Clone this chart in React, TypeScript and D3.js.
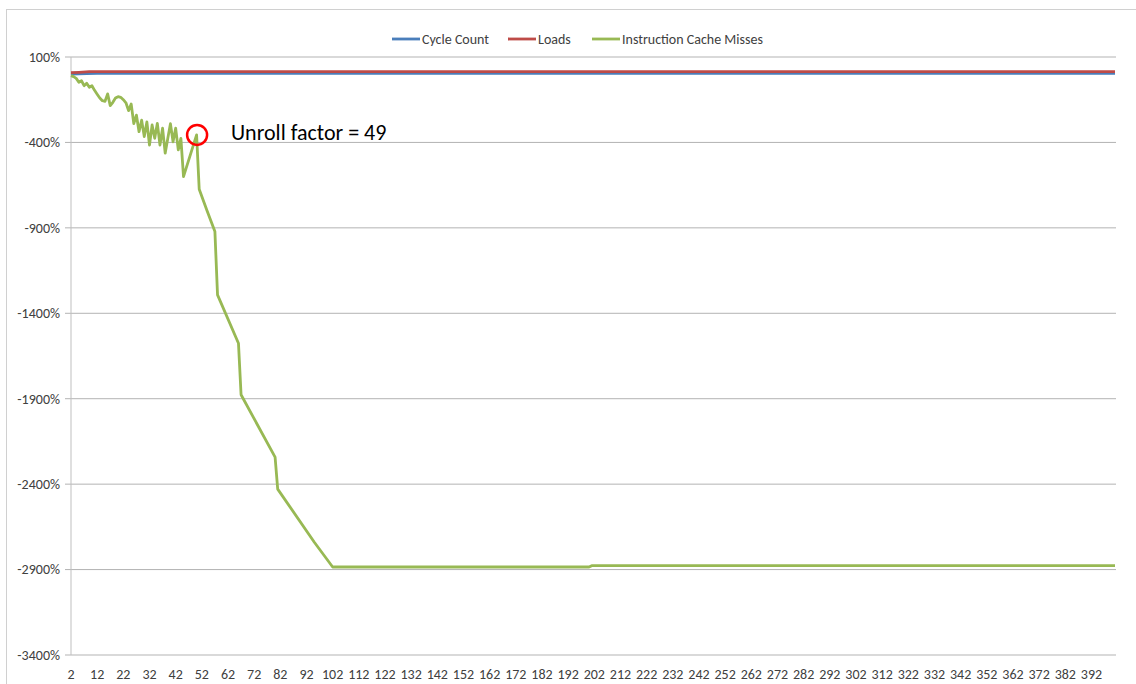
import * as d3 from 'd3'

// x categories run from 2 to 401, one point per unroll factor
const firstCat = 2
const lastCat = 401
const xTickLabels = d3.range(2, 393, 10)
const yTicks = [100, -400, -900, -1400, -1900, -2400, -2900, -3400]

// [unroll factor, % change]
const cycleCount: [number, number][] = [
  [2, 0], [5, 1], [8, 3], [12, 4], [401, 4],
]
const loads: [number, number][] = [
  [2, 8], [5, 10], [9, 14], [401, 14],
]
const cacheMisses: [number, number][] = [
  [2, -9], [3, -15], [4, -25], [5, -48], [6, -39], [7, -68], [8, -54], [9, -77],
  [10, -68], [11, -95], [12, -118], [13, -140], [14, -156], [15, -159], [16, -116],
  [17, -185], [18, -165], [19, -140], [20, -132], [21, -136], [22, -150], [23, -168],
  [24, -214], [25, -175], [26, -290], [27, -240], [28, -337], [29, -270], [30, -366],
  [31, -280], [32, -415], [33, -298], [34, -376], [35, -288], [36, -415], [37, -317],
  [38, -463], [39, -375], [40, -290], [41, -396], [42, -317], [43, -444], [44, -376],
  [45, -600], [50, -356], [51, -674], [54, -800], [57, -922], [58, -1292], [66, -1575],
  [67, -1877], [80, -2242], [81, -2429], [95, -2740], [102, -2885], [200, -2885],
  [201, -2877], [401, -2877],
]

const series = [
  { name: 'Cycle Count', color: '#4a7ebb', data: cycleCount },
  { name: 'Loads', color: '#be4b48', data: loads },
  { name: 'Instruction Cache Misses', color: '#98b954', data: cacheMisses },
]

const peakCat = 50
const peakLabel = 'Unroll factor = 49'

const font = 'Carlito, Calibri, Lato, sans-serif'

export default function App() {
  const width = 1136
  const height = 684
  const left = 71
  const right = 1115
  const top = 57
  const bottom = 655

  const x = d3.scaleLinear().domain([firstCat, lastCat]).range([left, right])
  const y = d3.scaleLinear().domain([-3400, 100]).range([bottom, top])

  const line = d3
    .line<[number, number]>()
    .x((d) => x(d[0]))
    .y((d) => y(d[1]))

  const peak = cacheMisses.find((d) => d[0] === peakCat)!

  const legendX = [392, 508, 592]

  return (
    <svg
      width={width}
      height={height}
      style={{ position: 'absolute', left: 0, top: 0, background: '#fff' }}
      fontFamily={font}
    >
      <rect x={6.5} y={9.5} width={width} height={height} fill="none" stroke="#d0d0d0" />

      {/* gridlines + y labels */}
      {yTicks.map((t) => (
        <g key={t}>
          <line x1={left - 6} x2={right + 1} y1={y(t)} y2={y(t)} stroke="#b3b3b3" strokeWidth={1} />
          <text x={60} y={y(t)} dy="0.35em" textAnchor="end" fontSize={14} fill="#404040">
            {t}%
          </text>
        </g>
      ))}
      <line x1={left} x2={left} y1={top} y2={bottom} stroke="#bfbfbf" />

      {/* x labels */}
      {xTickLabels.map((t) => (
        <text key={t} x={x(t)} y={679} textAnchor="middle" fontSize={14} fill="#404040">
          {t}
        </text>
      ))}

      {series.map((s) => (
        <path
          key={s.name}
          d={line(s.data) || undefined}
          fill="none"
          stroke={s.color}
          strokeWidth={2.8}
          strokeLinejoin="round"
        />
      ))}

      {/* annotation */}
      <circle cx={x(peak[0]) + 0.5} cy={y(peak[1])} r={10} fill="none" stroke="#ff0000" strokeWidth={2.5} />
      <text x={231} y={y(peak[1]) + 5} fontSize={22} fill="#000">
        {peakLabel}
      </text>

      {/* legend */}
      {series.map((s, i) => (
        <g key={s.name} transform={`translate(${legendX[i]},39)`}>
          <line x1={0} x2={28} y1={0} y2={0} stroke={s.color} strokeWidth={2.8} />
          <text x={30} y={0} dy="0.35em" fontSize={14} fill="#404040">
            {s.name}
          </text>
        </g>
      ))}
    </svg>
  )
}
